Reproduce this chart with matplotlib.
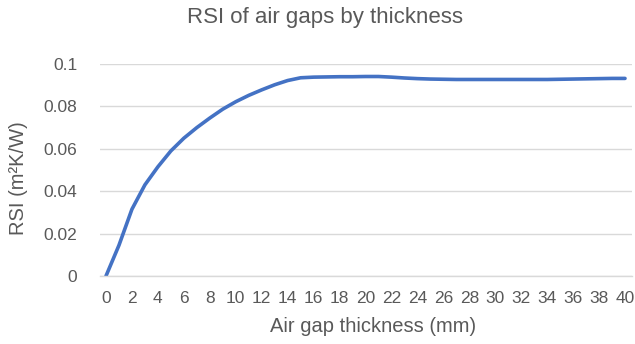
import numpy as np
import matplotlib
matplotlib.use("Agg")
import matplotlib.pyplot as plt

plt.rcParams['font.family'] = ['Liberation Sans', 'DejaVu Sans']

# air gap thickness (mm) and RSI values
thickness = list(range(0, 41))
rsi = [0, 0.0145, 0.0315, 0.043, 0.0515, 0.059, 0.065, 0.070, 0.0745, 0.0787,
       0.0822, 0.0852, 0.0878, 0.0902, 0.0922, 0.0935, 0.0938, 0.0939, 0.094, 0.094,
       0.0941, 0.0941, 0.0938, 0.0934, 0.0931, 0.0929, 0.0928, 0.0927, 0.0927, 0.0927,
       0.0927, 0.0927, 0.0927, 0.0927, 0.0927, 0.0928, 0.0929, 0.093, 0.0931, 0.0932,
       0.0932]
xtick_vals = list(range(0, 41, 2))
ytick_vals = [0, 0.02, 0.04, 0.06, 0.08, 0.1]
ytick_labels = ['0', '0.02', '0.04', '0.06', '0.08', '0.1']

grey = '#595959'

fig = plt.figure(figsize=(6.35, 3.44), dpi=100)
ax = fig.add_axes([99.5/635, 1 - 276/344, 532/635, 212/344])

ax.plot(thickness, rsi, color='#4472C4', linewidth=2.6, solid_capstyle='round')

ax.set_xlim(-0.5, 40.5)
ax.set_ylim(0, 0.1)
ax.set_xticks(xtick_vals)
ax.set_xticklabels([str(v) for v in xtick_vals])
ax.set_yticks(ytick_vals)
ax.set_yticklabels(ytick_labels)
ax.tick_params(axis='both', length=0, labelsize=12.5, labelcolor=grey)
ax.tick_params(axis='x', pad=11)
ax.tick_params(axis='y', pad=16)
ax.grid(axis='y', color='#D9D9D9', linewidth=1)
ax.set_axisbelow(True)
for s in ['top', 'right', 'left']:
    ax.spines[s].set_visible(False)
ax.spines['bottom'].set_color('#D9D9D9')
ax.spines['bottom'].set_linewidth(1)

ax.set_xlabel('Air gap thickness (mm)', fontsize=14.5, color=grey)
ax.xaxis.set_label_coords((373 - 99.5) / 532, -(327 - 276) / 212)
ax.xaxis.label.set_va('center')
ax.set_ylabel('RSI (m²K/W)', fontsize=14.5, color=grey)
ax.yaxis.set_label_coords((18.5 - 99.5) / 532, (276 - 178) / 212)
ax.yaxis.label.set_va('center')
fig.text(325 / 635, 1 - 17/344, 'RSI of air gaps by thickness',
         ha='center', va='center', fontsize=16, color=grey)

fig.savefig('out.png', dpi=100)
